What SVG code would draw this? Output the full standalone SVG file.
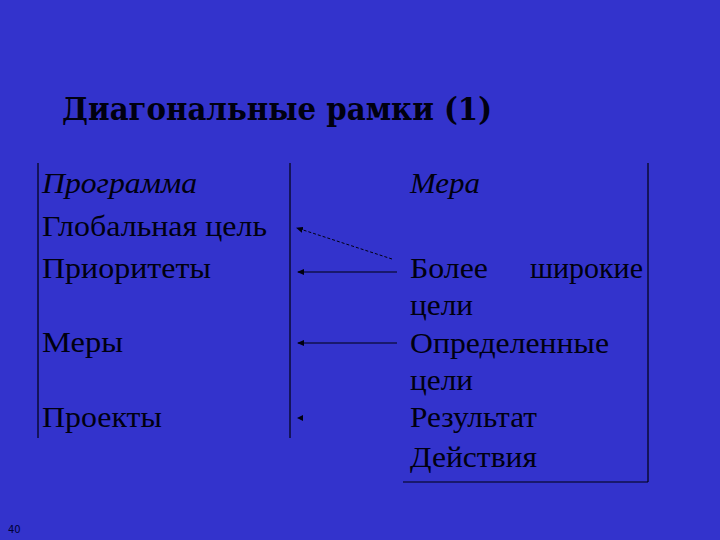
<svg xmlns="http://www.w3.org/2000/svg" width="720" height="540" viewBox="0 0 720 540">
<defs>
<style>
.t{font-family:"Liberation Serif","Times New Roman",serif;font-size:30px;fill:#000010}
.i{font-style:italic}
.ttl{font-family:"DejaVu Serif","Liberation Serif",serif;font-weight:bold;font-size:31px;fill:#000010}
.ln{stroke:#000010;stroke-width:1.2;fill:none}
.ar{stroke:#000010;stroke-width:1;fill:none}
</style>
<marker id="ah" markerWidth="8" markerHeight="6" refX="6" refY="3" orient="auto" markerUnits="userSpaceOnUse">
<path d="M7,3 L0,0 L0,6 Z" fill="#000010"/>
</marker>
</defs>
<rect x="0" y="0" width="720" height="540" fill="#3333cc"/>
<g id="title"><text class="ttl" x="62" y="120" textLength="430" lengthAdjust="spacingAndGlyphs">Диагональные рамки (1)</text></g>
<g id="frame">
<line class="ln" x1="38" y1="163" x2="38" y2="438"/>
<line class="ln" x1="290" y1="163" x2="290" y2="438"/>
<line class="ln" x1="648" y1="163" x2="648" y2="482"/>
<line class="ln" x1="403" y1="482" x2="648" y2="482"/>
</g>
<g id="left">
<text class="t i" x="42" y="193" textLength="155" lengthAdjust="spacingAndGlyphs">Программа</text>
<text class="t" x="42" y="236" textLength="225" lengthAdjust="spacingAndGlyphs">Глобальная цель</text>
<text class="t" x="42" y="278" textLength="169" lengthAdjust="spacingAndGlyphs">Приоритеты</text>
<text class="t" x="42" y="352" textLength="81" lengthAdjust="spacingAndGlyphs">Меры</text>
<text class="t" x="42" y="427" textLength="120" lengthAdjust="spacingAndGlyphs">Проекты</text>
</g>
<g id="right">
<text class="t i" x="410" y="193" textLength="70" lengthAdjust="spacingAndGlyphs">Мера</text>
<text class="t" x="410" y="278" textLength="78" lengthAdjust="spacingAndGlyphs">Более</text>
<text class="t" x="643" y="278" text-anchor="end">широкие</text>
<text class="t" x="410" y="315" textLength="63" lengthAdjust="spacingAndGlyphs">цели</text>
<text class="t" x="410" y="353" textLength="199" lengthAdjust="spacingAndGlyphs">Определенные</text>
<text class="t" x="410" y="390" textLength="63" lengthAdjust="spacingAndGlyphs">цели</text>
<text class="t" x="410" y="427" textLength="127" lengthAdjust="spacingAndGlyphs">Результат</text>
<text class="t" x="410" y="467" textLength="127" lengthAdjust="spacingAndGlyphs">Действия</text>
</g>
<g id="connectors">
<line class="ar" x1="392" y1="259" x2="297" y2="228" stroke-dasharray="3,2" marker-end="url(#ah)"/>
<line class="ar" x1="397" y1="272" x2="298" y2="272" marker-end="url(#ah)"/>
<line class="ar" x1="397" y1="343" x2="298" y2="343" marker-end="url(#ah)"/>
<path d="M297,418 L303,415 L303,421 Z" fill="#000010"/>
</g>
<g id="page"><text x="8" y="533" font-family="'DejaVu Sans',sans-serif" font-size="10" fill="#000033">40</text></g>
</svg>
